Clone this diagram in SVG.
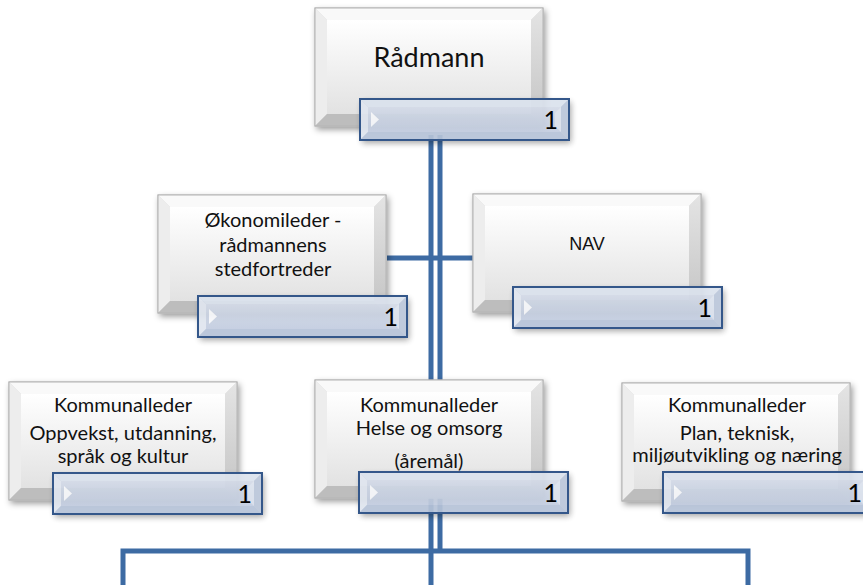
<svg xmlns="http://www.w3.org/2000/svg" xmlns:xlink="http://www.w3.org/1999/xlink" width="863" height="585" viewBox="0 0 863 585">
<style>
.conn{stroke:#3d6ba3;stroke-width:5;fill:none}
.t{font-family:Lato,"Liberation Sans",sans-serif;fill:#111;text-anchor:middle}
.nav{font-family:"Liberation Sans",Arial,sans-serif;fill:#111;text-anchor:middle;font-size:18px}
.num{font-family:Lato,"Liberation Sans",sans-serif;fill:#000;text-anchor:end;font-size:25px}
</style>
<defs>
<linearGradient id="gface" x1="0" y1="0" x2="0" y2="1">
<stop offset="0" stop-color="#ffffff"/><stop offset="1" stop-color="#e2e2e2"/>
</linearGradient>
<linearGradient id="gright" x1="0" y1="0" x2="0" y2="1">
<stop offset="0" stop-color="#e4e4e4"/><stop offset="1" stop-color="#c4c4c4"/>
</linearGradient>
<linearGradient id="lface" x1="0" y1="0" x2="0" y2="1">
<stop offset="0" stop-color="#d4dbe8"/><stop offset="0.5" stop-color="#c9d2e2"/><stop offset="1" stop-color="#c3cde0"/>
</linearGradient>
<filter id="sh" x="-10%" y="-10%" width="125%" height="135%">
<feDropShadow dx="2" dy="3" stdDeviation="3" flood-color="#000" flood-opacity="0.4"/>
</filter>
<g id="gray">
<rect x="0" y="0" width="228" height="118" fill="#d8d8d8" stroke="#b4b4b4" stroke-width="1" filter="url(#sh)"/>
<polygon points="0,0 228,0 216,12 12,12" fill="#f9f9f9"/>
<polygon points="0,0 12,12 12,106 0,118" fill="#ededed"/>
<polygon points="228,0 228,118 216,106 216,12" fill="url(#gright)"/>
<polygon points="0,118 12,106 216,106 228,118" fill="#bdbdbd"/>
<rect x="12" y="12" width="204" height="94" fill="url(#gface)"/>
<rect x="0" y="0" width="228" height="118" fill="none" stroke="#b4b4b4" stroke-width="1"/>
</g>
<g id="lab">
<g opacity="0.92">
<rect x="0" y="0" width="209" height="41" fill="#c6d0e1" filter="url(#sh)"/>
<polygon points="0,0 209,0 201,8 8,8" fill="#dbe2ed"/>
<polygon points="0,0 8,8 8,33 0,41" fill="#e0e6ef"/>
<polygon points="209,0 209,41 201,33 201,8" fill="#bac6da"/>
<polygon points="0,41 8,33 201,33 209,41" fill="#b6c3d8"/>
<rect x="8" y="8" width="193" height="25" fill="url(#lface)"/>
<polygon points="11,13 19,20.5 11,28" fill="#ffffff" opacity="0.85"/>
<polygon points="201,8 195,14 195,27 201,33" fill="#dfe5ef" opacity="0.7"/>
</g>
<rect x="0" y="0" width="209" height="41" fill="none" stroke="#34578a" stroke-width="2"/>
</g>
</defs>
<rect width="863" height="585" fill="#ffffff"/>
<g id="connectors">
<line class="conn" x1="431" y1="135" x2="431" y2="585"/>
<line class="conn" x1="440" y1="135" x2="440" y2="553"/>
<line class="conn" x1="387" y1="258" x2="473" y2="258"/>
<polyline class="conn" points="123,585 123,551 748,551 748,585"/>
</g>
<g id="radmann">
<use xlink:href="#gray" href="#gray" x="315" y="8"/>
<text class="t" x="429" y="67" font-size="27">Rådmann</text>
<use xlink:href="#lab" href="#lab" x="360" y="99"/>
<text class="num" x="558" y="129" font-size="28">1</text>
</g>
<g id="okonomileder">
<use xlink:href="#gray" href="#gray" x="158" y="195"/>
<text class="t" x="273" y="227" font-size="20">Økonomileder -</text>
<text class="t" x="273" y="252" font-size="20">rådmannens</text>
<text class="t" x="273" y="276" font-size="20">stedfortreder</text>
<use xlink:href="#lab" href="#lab" x="198" y="296"/>
<text class="num" x="398" y="326">1</text>
</g>
<g id="nav">
<use xlink:href="#gray" href="#gray" x="473" y="194"/>
<text class="nav" x="587" y="250">NAV</text>
<use xlink:href="#lab" href="#lab" x="513" y="287"/>
<text class="num" x="712" y="317">1</text>
</g>
<g id="oppvekst">
<use xlink:href="#gray" href="#gray" x="9" y="382"/>
<text class="t" x="123" y="412" font-size="20">Kommunalleder</text>
<text class="t" x="123" y="440" font-size="20">Oppvekst, utdanning,</text>
<text class="t" x="123" y="463" font-size="20">språk og kultur</text>
<use xlink:href="#lab" href="#lab" x="53" y="473"/>
<text class="num" x="252" y="503">1</text>
</g>
<g id="helse">
<use xlink:href="#gray" href="#gray" x="315" y="380"/>
<text class="t" x="429" y="412" font-size="20">Kommunalleder</text>
<text class="t" x="429" y="435" font-size="20">Helse og omsorg</text>
<text class="t" x="429" y="468" font-size="20">(åremål)</text>
<use xlink:href="#lab" href="#lab" x="359" y="472"/>
<text class="num" x="558" y="502">1</text>
</g>
<g id="plan">
<use xlink:href="#gray" href="#gray" x="622" y="383"/>
<text class="t" x="737" y="412" font-size="20">Kommunalleder</text>
<text class="t" x="737" y="440" font-size="20">Plan, teknisk,</text>
<text class="t" x="737" y="462" font-size="20">miljøutvikling og næring</text>
<use xlink:href="#lab" href="#lab" x="663" y="472"/>
<text class="num" x="862" y="502">1</text>
</g>
</svg>
